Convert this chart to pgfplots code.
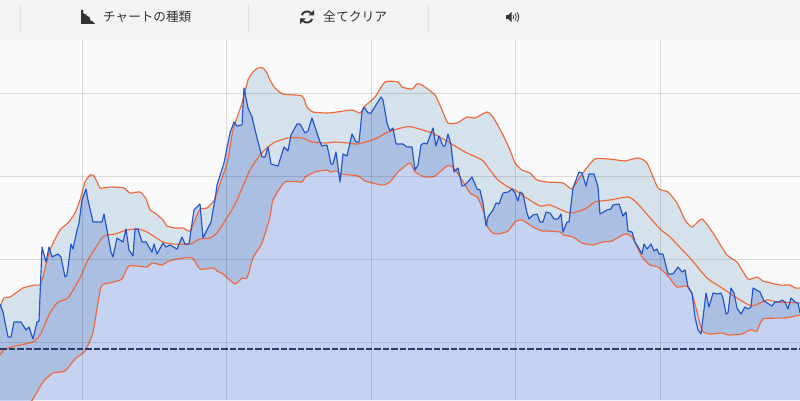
\documentclass[border=0pt]{standalone}
\usepackage{pgfplots}
\usepackage{pgfplotstable}
\usepackage{fontspec}
\pgfplotsset{compat=1.18}
\newfontfamily\cjk{Noto Sans CJK JP}
\definecolor{bandline}{HTML}{F0683A}
\definecolor{priceline}{HTML}{2255CC}
\definecolor{upfill}{HTML}{D6E2EB}
\definecolor{lowfill}{HTML}{C5D2F2}
\definecolor{pricefill}{HTML}{2A5AC7}
\definecolor{dashc}{HTML}{2B3A67}
\definecolor{bgc}{HTML}{FAFAFA}
\definecolor{barc}{HTML}{F3F3F3}
\definecolor{sepc}{HTML}{E2E2E2}
\definecolor{icon}{HTML}{333333}
\pgfplotstableread{
x y
0 307
4 298
10 297
23 288
35 285
40 285
43 277
50 250
60 230
68 223
75 213
80 200
85 182
90 175
94 176
100 188
102 188
112 187
124 188
130 193
140 192
146 199
150 210
155 213
163 220
167 226
175 228
183 228
190 231
197 215
200 209
207 208
213 202
215 198
227 163
233 130
242 103
248 80
253 72
258 68
263 68
267 73
270 80
275 88
283 94
302 96
307 107
313 112
327 113
337 112
352 110
360 113
365 106
375 97
385 82
398 82
402 87
412 89
417 84
422 85
435 95
442 110
448 123
457 123
467 117
475 118
487 112
493 117
502 133
510 150
515 163
522 170
530 173
537 180
547 182
563 183
572 189
580 177
595 159
617 160
625 161
638 158
647 163
658 188
668 192
677 203
685 220
692 227
702 219
713 233
727 255
737 262
748 279
757 277
763 281
780 285
790 285
795 288
800 288
}\tblupper
\pgfplotstableread{
x y
0 355
5 349
20 345
33 342
40 335
50 313
58 302
68 298
80 278
88 260
102 238
107 235
115 234
127 230
138 229
147 232
163 242
173 244
190 244
200 239
210 238
217 233
230 213
237 200
250 170
260 155
267 148
275 142
288 138
302 138
312 142
327 143
335 142
348 143
358 144
375 139
388 132
405 127
412 127
432 133
450 143
465 152
482 160
490 170
498 180
508 187
515 190
525 197
540 206
550 205
570 213
585 209
595 202
610 200
628 197
637 203
660 229
670 237
690 258
707 278
722 288
737 298
752 306
767 300
777 302
800 303
}\tblmiddle
\pgfplotstableread{
x y
0 432
20 415
33 399
43 382
53 373
65 371
75 359
85 351
93 332
101 287
110 283
122 279
129 266
147 267
152 263
162 265
167 262
177 259
192 258
200 269
213 268
217 271
223 274
235 284
242 278
247 278
253 258
262 243
270 217
273 200
285 182
302 182
305 177
315 172
327 170
330 172
337 171
340 174
358 176
365 181
382 185
390 182
398 172
410 163
415 172
425 177
435 176
447 166
453 167
462 180
470 193
478 198
484 213
488 228
493 233
498 234
508 231
515 222
522 220
533 227
542 231
547 231
560 232
563 235
573 237
582 243
593 245
603 242
612 241
625 234
632 237
642 257
650 265
658 267
667 275
677 287
687 286
693 297
702 330
710 334
722 333
728 335
742 334
750 330
757 331
763 319
785 318
800 315
}\tbllower
\pgfplotstableread{
x y
0 304
3 312
8 337
11 337
14 322
21 322
26 330
29 327
33 339
37 322
39 321
42 247
46 262
49 247
52 257
58 254
61 257
65 277
67 275
71 244
73 249
77 230
79 223
82 200
86 189
88 200
93 222
102 222
104 214
111 252
113 257
117 238
123 242
126 229
129 250
133 256
135 229
138 229
142 242
146 242
152 252
154 244
157 254
163 243
166 247
170 245
177 249
182 237
185 244
189 244
194 210
200 204
203 238
211 222
213 210
215 200
217 185
224 163
230 133
234 122
237 126
242 125
244 88
248 108
252 117
257 138
262 157
265 157
268 147
271 164
278 166
284 147
288 151
291 135
297 124
300 124
305 133
308 131
312 118
320 142
322 146
327 145
331 164
333 164
336 152
340 182
343 154
347 156
352 134
356 142
359 142
362 112
364 107
368 113
371 113
381 97
383 100
387 123
390 131
393 128
396 144
403 144
407 147
412 147
415 170
418 165
421 145
424 143
427 144
433 128
436 146
439 136
443 146
445 146
448 134
451 145
454 172
458 168
462 186
465 185
472 177
477 189
480 190
483 203
486 226
488 217
493 210
496 203
499 204
503 193
508 192
512 189
515 193
518 201
520 192
523 194
527 213
529 219
533 215
537 214
540 222
543 222
546 212
550 213
554 219
558 219
561 214
563 232
567 222
569 222
573 188
579 172
582 173
586 186
589 174
594 174
598 187
600 214
607 210
611 209
613 205
619 204
623 216
626 212
628 231
632 232
635 242
638 247
642 254
644 244
647 249
651 244
654 251
657 249
659 254
663 254
668 274
673 274
678 267
682 272
685 270
688 287
692 293
695 317
698 330
701 334
706 293
709 307
713 293
718 294
721 293
723 298
726 314
728 313
731 288
734 293
737 308
741 314
745 307
748 309
751 307
753 288
760 292
764 301
772 306
775 302
779 302
782 300
785 302
788 309
791 298
795 302
798 303
800 313
}\tblprice
\begin{document}
\begin{tikzpicture}[x=1bp,y=1bp]
\useasboundingbox (0,0) rectangle (800,400);
\fill[bgc] (0,0) rectangle (800,360);
\begin{axis}[at={(0,0)},anchor=south west,scale only axis,width=800bp,height=360bp,
  xmin=0,xmax=800,ymin=0,ymax=360,
  xtick={82,226,371,515,660},ytick={58,141,224,307},
  xticklabels={},yticklabels={},
  major tick length=0pt,
  grid=major,grid style={black,opacity=0.12,line width=0.9bp},
  axis line style={draw=none},axis on top,
  table/x=x]
\addplot[draw=none,fill=upfill,smooth,tension=0.35] table[y expr=400-\thisrow{y}] {\tblupper} \closedcycle;
\addplot[draw=none,fill=pricefill,fill opacity=0.25] table[y expr=400-\thisrow{y}] {\tblprice} \closedcycle;
\addplot[draw=none,fill=lowfill,smooth,tension=0.35] table[y expr=400-\thisrow{y}] {\tbllower} \closedcycle;
\addplot[bandline,line width=1.15bp,smooth,tension=0.35] table[y expr=400-\thisrow{y}] {\tblupper};
\addplot[bandline,line width=1.15bp,smooth,tension=0.35] table[y expr=400-\thisrow{y}] {\tblmiddle};
\addplot[bandline,line width=1.15bp,smooth,tension=0.35] table[y expr=400-\thisrow{y}] {\tbllower};
\addplot[priceline,line width=1.15bp,line join=round] table[y expr=400-\thisrow{y}] {\tblprice};
\addplot[dashc,line width=1.1bp,dash pattern=on 6.5bp off 2bp] coordinates {(0,51) (800,51)};
\end{axis}
% toolbar
\fill[barc] (0,360) rectangle (800,400);
\foreach \sx in {20.5,248.5,428.5} \draw[sepc,line width=0.8bp] (\sx,369) -- (\sx,397);
\fill[icon] (81,376) -- (95,376) -- (92.5,378.5) -- (90.5,379.5) -- (89.5,383) -- (87,384) -- (86,385.5) -- (83.5,386.5) -- (83,390) -- (81,390) -- cycle;
\node[anchor=base west,inner sep=0,text=icon,font=\cjk\fontsize{12.6bp}{14bp}\selectfont] at (103,378.5) {チャートの種類};
\node[anchor=base west,inner sep=0,text=icon,font=\cjk\fontsize{12.8bp}{14bp}\selectfont] at (323,378.5) {全てクリア};
% refresh icon
\begin{scope}[shift={(307,383)}]
\draw[icon,line width=1.9bp] (160:5.6) arc (160:45:5.6);
\draw[icon,line width=1.9bp] (-20:5.6) arc (-20:-135:5.6);
\fill[icon] (7,7) -- (7,1.5) -- (1.5,1.5) -- cycle;
\fill[icon] (-7,-7) -- (-7,-1.5) -- (-1.5,-1.5) -- cycle;
\end{scope}
% speaker icon
\begin{scope}[shift={(506,383)}]
\fill[icon] (0,-1.8) -- (2.2,-1.8) -- (5.5,-5) -- (5.5,5) -- (2.2,1.8) -- (0,1.8) -- cycle;
\draw[icon,line width=0.8bp] (7,-2) arc (-35:35:3.4);
\draw[icon,line width=0.8bp] (9,-3.6) arc (-40:40:5.5);
\draw[icon,line width=0.8bp] (11,-4.8) arc (-40:40:7.3);
\end{scope}
\end{tikzpicture}
\end{document}
